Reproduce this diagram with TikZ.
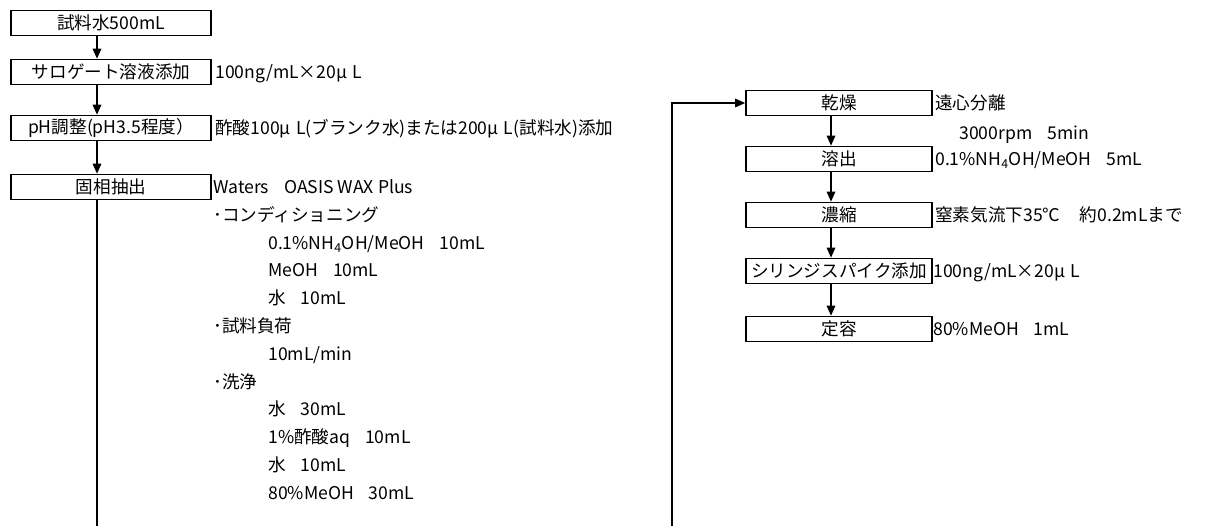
\documentclass[tikz,border=0pt]{standalone}
\usepackage{fontspec}
\setmainfont{Noto Sans CJK JP}
\usetikzlibrary{arrows.meta}
\newcommand{\jsp}{\hspace{0.85em}}
\newcommand{\usp}{\hspace{0.3em}}
\begin{document}
\begin{tikzpicture}[x=0.75pt,y=-0.75pt,
  font=\fontsize{13.2}{16}\selectfont,
  lbox/.style={draw, line width=1.3pt, minimum width=150pt, minimum height=18.75pt, inner sep=0pt},
  rbox/.style={draw, line width=1.3pt, minimum width=139.5pt, minimum height=18.75pt, inner sep=0pt},
  lbl/.style={anchor=base west, inner sep=0pt},
  conn/.style={line width=0.8pt, -{Triangle[width=6.5pt,length=7.5pt]}},
  plain/.style={line width=0.8pt}]
\useasboundingbox (0,0) rectangle (1209,526);
\coordinate (ax) at (97,0);
\coordinate (bx) at (831,0);
\coordinate (rx) at (672,0);
\coordinate (bot) at (0,526);
% left boxes
\node[lbox] (b1) at (111,23) {試料水500mL};
\node[lbox] (b2) at (111,72) {サロゲート溶液添加};
\node[lbox] (b3) at (111,128) {pH調整(pH3.5程度）};
\node[lbox] (b4) at (111,187) {固相抽出};
% right boxes
\node[rbox] (d1) at (839,103) {乾燥};
\node[rbox] (d2) at (839,159) {溶出};
\node[rbox] (d3) at (839,215) {濃縮};
\node[rbox] (d4) at (839,271) {シリンジスパイク添加};
\node[rbox] (d5) at (839,329) {定容};
% connectors
\draw[conn] (b1.south -| ax) -- (b2.north -| ax);
\draw[conn] (b2.south -| ax) -- (b3.north -| ax);
\draw[conn] (b3.south -| ax) -- (b4.north -| ax);
\draw[plain] (b4.south -| ax) -- (ax |- bot);
\draw[conn] (rx |- bot) |- (d1.west);
\draw[conn] (d1.south -| bx) -- (d2.north -| bx);
\draw[conn] (d2.south -| bx) -- (d3.north -| bx);
\draw[conn] (d3.south -| bx) -- (d4.north -| bx);
\draw[conn] (d4.south -| bx) -- (d5.north -| bx);
% left labels
\node[lbl] (l1) at (215,78.5) {100ng/mL×20μ\usp L};
\node[lbl] (l2) at (215,134.5) {酢酸100μ\usp L(ブランク水)または200μ\usp L(試料水)添加};
\node[lbl] (l3) at (213,193.5) {Waters\jsp OASIS WAX Plus};
\node[lbl] (l4) at (213,221.3) {･コンディショニング};
\node[lbl] (l5) at (268,249.1) {0.1\%NH\textsubscript{4}OH/MeOH\jsp 10mL};
\node[lbl] (l6) at (268,276.9) {MeOH\jsp 10mL};
\node[lbl] (l7) at (268,304.7) {水\jsp 10mL};
\node[lbl] (l8) at (213,332.5) {･試料負荷};
\node[lbl] (l9) at (268,360.3) {10mL/min};
\node[lbl] (l10) at (213,388.1) {･洗浄};
\node[lbl] (l11) at (268,415.9) {水\jsp 30mL};
\node[lbl] (l12) at (268,443.7) {1\%酢酸aq\jsp 10mL};
\node[lbl] (l13) at (268,471.5) {水\jsp 10mL};
\node[lbl] (l14) at (268,499.3) {80\%MeOH\jsp 30mL};
% right labels
\node[lbl] (r1) at (935,109.5) {遠心分離};
\node[lbl] (r2) at (959,139.5) {3000rpm\jsp 5min};
\node[lbl] (r3) at (935,165.5) {0.1\%NH\textsubscript{4}OH/MeOH\jsp 5mL};
\node[lbl] (r4) at (935,221.5) {窒素気流下35℃\hspace{1.1em}約0.2mLまで};
\node[lbl] (r5) at (933,277.5) {100ng/mL×20μ\usp L};
\node[lbl] (r6) at (933,335.5) {80\%MeOH\jsp 1mL};
\end{tikzpicture}
\end{document}
